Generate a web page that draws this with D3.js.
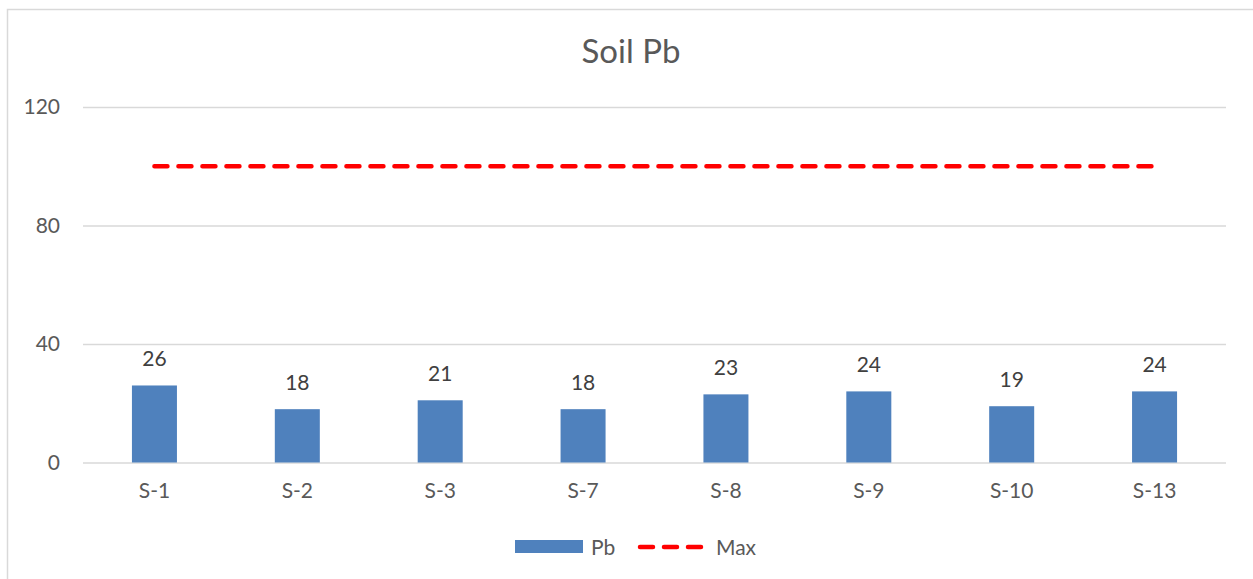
<!DOCTYPE html>
<html>
<head>
<meta charset="utf-8">
<script src="https://cdn.jsdelivr.net/npm/d3@7"></script>
<style>
  body { margin: 0; background: #fff; }
  text { font-family: Lato, "Open Sans", sans-serif; fill: #595959; }
</style>
</head>
<body>
<div id="chart"></div>
<script>
// data
var samples = ["S-1", "S-2", "S-3", "S-7", "S-8", "S-9", "S-10", "S-13"];
var pbValues = [26, 18, 21, 18, 23, 24, 19, 24];
var maxValues = [100, 100, 100, 100, 100, 100, 100, 100];
var yTicks = [0, 40, 80, 120];

var W = 1253, H = 579;
var margin = {top: 107, right: 27, bottom: 117, left: 83},
    width = W - margin.left - margin.right,
    height = 462.5 - margin.top;

var svgRoot = d3.select("#chart")
  .append("svg")
    .attr("width", W)
    .attr("height", H);

// outer chart border
svgRoot.append("rect")
  .attr("x", 7.5).attr("y", 9.5)
  .attr("width", W + 20).attr("height", H + 20)
  .attr("fill", "none")
  .attr("stroke", "#d9d9d9")
  .attr("stroke-width", 1.5);

svgRoot.append("text")
  .attr("x", 631).attr("y", 63)
  .attr("text-anchor", "middle")
  .attr("font-size", 33)
  .text("Soil Pb");

var svg = svgRoot.append("g")
  .attr("transform", "translate(" + margin.left + "," + margin.top + ")");

var x = d3.scaleBand()
  .domain(samples)
  .range([0, width])
  .paddingInner(0).paddingOuter(0);

var y = d3.scaleLinear()
  .domain([0, 120])
  .range([height, 0]);

// gridlines + y labels
var yAxis = svg.append("g")
  .call(d3.axisLeft(y).tickValues(yTicks).tickSize(-width).tickPadding(23));
yAxis.select(".domain").remove();
yAxis.selectAll("line").attr("stroke", "#d9d9d9").attr("stroke-width", 1.5);
yAxis.selectAll("text").attr("font-size", 21).style("fill", "#595959");

// x labels
var xAxis = svg.append("g")
  .attr("transform", "translate(0," + height + ")")
  .call(d3.axisBottom(x).tickSize(0).tickPadding(21));
xAxis.select(".domain").remove();
xAxis.selectAll("text").attr("font-size", 21).style("fill", "#595959");

var barW = x.bandwidth() * 0.315;

// bars
svg.append("g")
  .selectAll("rect")
  .data(pbValues)
  .join("rect")
    .attr("x", function(d, i) { return x(samples[i]) + x.bandwidth() / 2 - barW / 2; })
    .attr("y", function(d) { return y(d); })
    .attr("width", barW)
    .attr("height", function(d) { return height - y(d); })
    .attr("fill", "#4f81bd");

// data labels
svg.append("g")
  .selectAll("text")
  .data(pbValues)
  .join("text")
    .attr("x", function(d, i) { return x(samples[i]) + x.bandwidth() / 2; })
    .attr("y", function(d) { return y(d) - 19; })
    .attr("text-anchor", "middle")
    .attr("font-size", 21)
    .style("fill", "#404040")
    .text(function(d) { return d; });

// max line
var line = d3.line()
  .x(function(d, i) { return x(samples[i]) + x.bandwidth() / 2; })
  .y(function(d) { return y(d); });
svg.append("path")
  .datum(maxValues)
  .attr("d", line)
  .attr("fill", "none")
  .attr("stroke", "#ff0000")
  .attr("stroke-width", 4.5)
  .attr("stroke-linecap", "round")
  .attr("stroke-dasharray", "13,11");

// legend
var lg = svgRoot.append("g").attr("transform", "translate(0,547)");
lg.append("rect")
  .attr("x", 515).attr("y", -7).attr("width", 68).attr("height", 13)
  .attr("fill", "#4f81bd");
lg.append("text")
  .attr("x", 591).attr("y", 8)
  .attr("font-size", 21)
  .text("Pb");
lg.append("line")
  .attr("x1", 640).attr("x2", 703).attr("y1", 0).attr("y2", 0)
  .attr("stroke", "#ff0000")
  .attr("stroke-width", 4.5)
  .attr("stroke-linecap", "round")
  .attr("stroke-dasharray", "13,11");
lg.append("text")
  .attr("x", 716).attr("y", 8)
  .attr("font-size", 21)
  .text("Max");
</script>
</body>
</html>
